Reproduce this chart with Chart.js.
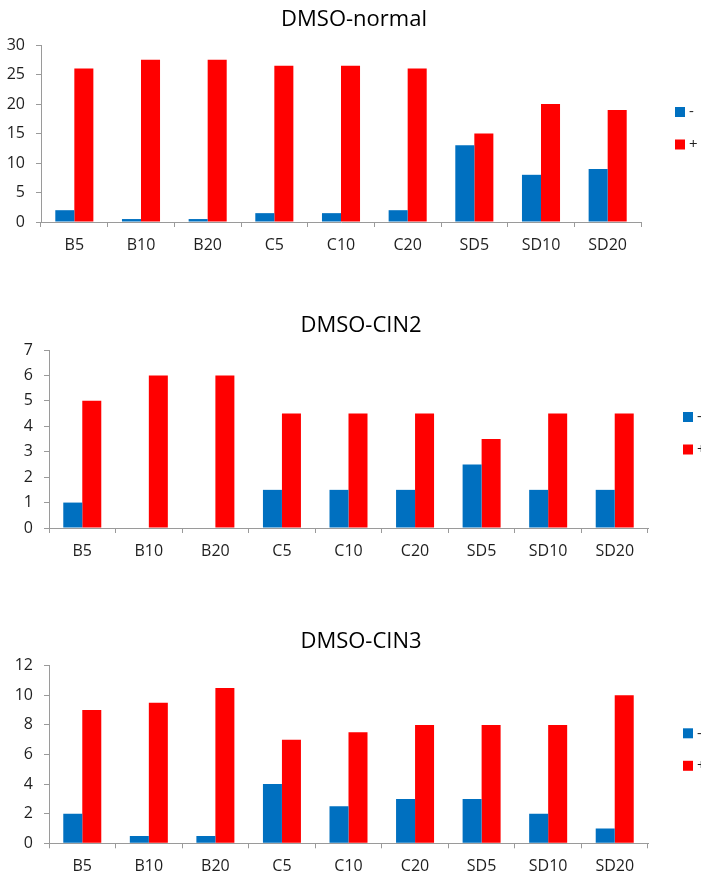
<!DOCTYPE html>
<html>
<head>
<meta charset="utf-8">
<script src="https://cdn.jsdelivr.net/npm/chart.js@4.4.1/dist/chart.umd.min.js"></script>
<style>
  html, body { margin: 0; padding: 0; background: #ffffff; overflow: hidden; width: 701px; height: 877px; }
  .box { position: absolute; left: 0; }
  canvas { display: block; }
</style>
</head>
<body>
<div class="box" id="b1" style="top:0px"><canvas id="c1" width="701" height="260"></canvas></div>
<div class="box" id="b2" style="top:300px"><canvas id="c2" width="709" height="270"></canvas></div>
<div class="box" id="b3" style="top:600px"><canvas id="c3" width="709" height="277"></canvas></div>
<script>
// ---- data ----
const categories = ['B5', 'B10', 'B20', 'C5', 'C10', 'C20', 'SD5', 'SD10', 'SD20'];
const seriesLabels = ['-', '+'];
const titles = ['DMSO-normal', 'DMSO-CIN2', 'DMSO-CIN3'];

const normalMinus = [2, 0.5, 0.5, 1.5, 1.5, 2, 13, 8, 9];
const normalPlus  = [26, 27.5, 27.5, 26.5, 26.5, 26, 15, 20, 19];
const cin2Minus   = [1, 0, 0, 1.5, 1.5, 1.5, 2.5, 1.5, 1.5];
const cin2Plus    = [5, 6, 6, 4.5, 4.5, 4.5, 3.5, 4.5, 4.5];
const cin3Minus   = [2, 0.5, 0.5, 4, 2.5, 3, 3, 2, 1];
const cin3Plus    = [9, 9.5, 10.5, 7, 7.5, 8, 8, 8, 10];

const normalYTicks = [0, 5, 10, 15, 20, 25, 30];
const cin2YTicks   = [0, 1, 2, 3, 4, 5, 6, 7];
const cin3YTicks   = [0, 2, 4, 6, 8, 10, 12];

// ---- styling ----
const BLUE = '#0070C0';
const RED = '#FF0000';
const AXIS = '#9a9a9a';
const TEXT = '#1f1f1f';
const FONT = "'Open Sans', 'DejaVu Sans', sans-serif";

function makeChart(id, title, minus, plus, yTicks, g) {
  const ctx = document.getElementById(id).getContext('2d');
  return new Chart(ctx, {
    type: 'bar',
    data: {
      labels: categories,
      datasets: [
        { label: seriesLabels[0], data: minus, backgroundColor: BLUE, borderWidth: 0, xAxisID: 'x', yAxisID: 'y' },
        { label: seriesLabels[1], data: plus, backgroundColor: RED, borderWidth: 0, xAxisID: 'x', yAxisID: 'y' }
      ]
    },
    options: {
      responsive: false,
      animation: false,
      devicePixelRatio: 1,
      categoryPercentage: 0.571,
      barPercentage: 1.0,
      layout: { padding: { left: g.padLeft, right: 0, top: g.padTop, bottom: g.padBottom } },
      plugins: {
        tooltip: { enabled: false },
        title: {
          display: true,
          text: title,
          color: '#000000',
          font: { family: FONT, size: 22, weight: 'normal' },
          padding: { top: g.titleTop, bottom: g.titleBottom }
        },
        legend: {
          display: true,
          position: 'right',
          align: 'center',
          maxWidth: g.legendW,
          labels: {
            usePointStyle: true,
            pointStyle: 'rect',
            boxWidth: 3,
            boxHeight: 10,
            padding: 17.5,
            color: TEXT,
            font: { family: FONT, size: 15 }
          }
        }
      },
      scales: {
        x: {
          type: 'category',
          position: 'bottom',
          grid: { display: true, drawOnChartArea: false, drawTicks: true, tickLength: 5, color: AXIS, lineWidth: 1, offset: true },
          border: { display: true, color: AXIS, width: 1 },
          ticks: { color: TEXT, font: { family: FONT, size: 16 }, padding: 8.5, maxRotation: 0, autoSkip: false },
          afterFit: (s) => { s.height = g.xAxisH; }
        },
        y: {
          type: 'linear',
          position: 'left',
          min: yTicks[0],
          max: yTicks[yTicks.length - 1],
          grid: { display: true, drawOnChartArea: false, drawTicks: true, tickLength: 5, color: AXIS, lineWidth: 1 },
          border: { display: true, color: AXIS, width: 1 },
          ticks: { stepSize: yTicks[1] - yTicks[0], color: TEXT, font: { family: FONT, size: 16 }, padding: 11 },
          afterFit: (s) => { s.width = g.yAxisW; }
        },
        spacer: {
          type: 'linear',
          position: 'right',
          display: true,
          grid: { display: false, drawTicks: false },
          border: { display: false },
          ticks: { display: false },
          afterFit: (s) => { s.width = g.spacerW; }
        }
      }
    }
  });
}

makeChart('c1', titles[0], normalMinus, normalPlus, normalYTicks,
  { padLeft: 7, padTop: 0, padBottom: 3.5, titleTop: 6.8, titleBottom: 11.8, xAxisH: 34.5, yAxisW: 34, spacerW: 20, legendW: 40 });
makeChart('c2', titles[1], cin2Minus, cin2Plus, cin2YTicks,
  { padLeft: 13, padTop: 0, padBottom: 3.5, titleTop: 12.8, titleBottom: 10.8, xAxisH: 38.5, yAxisW: 36, spacerW: 21, legendW: 40 });
makeChart('c3', titles[2], cin3Minus, cin3Plus, cin3YTicks,
  { padLeft: 13, padTop: 22.1, padBottom: 0, titleTop: 6.7, titleBottom: 10.5, xAxisH: 33.7, yAxisW: 36, spacerW: 21, legendW: 40 });
</script>
</body>
</html>
